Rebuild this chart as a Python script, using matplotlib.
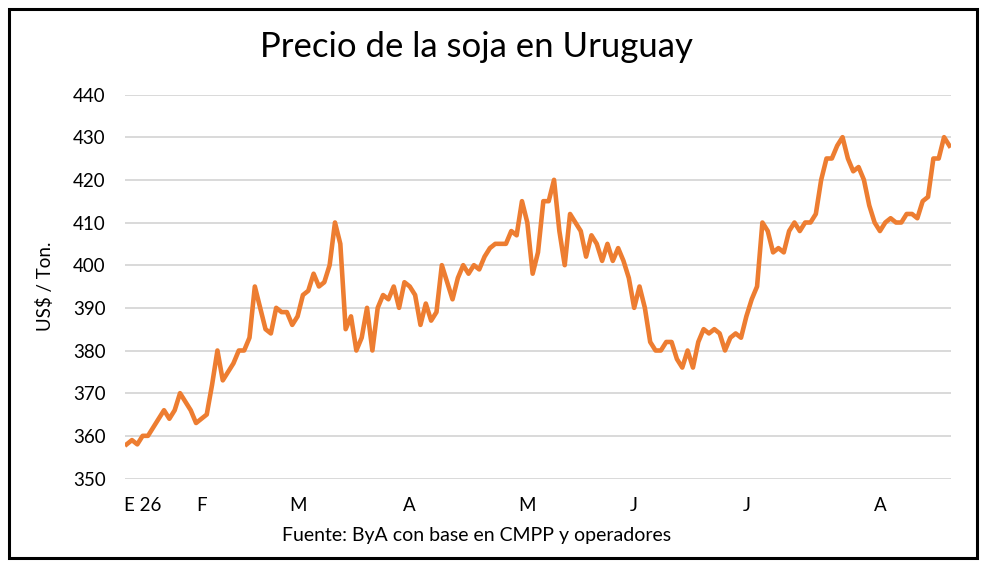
import numpy as np
import matplotlib
matplotlib.use("Agg")
from matplotlib import pyplot as plt
from matplotlib.patches import Rectangle

# ---------------------------------------------------------------
#   Data
# ---------------------------------------------------------------
precio = [
    358, 359, 358, 360, 360, 362, 364, 366, 364, 366,
    370, 368, 366, 363, 364, 365, 372, 380, 373, 375,
    377, 380, 380, 383, 395, 390, 385, 384, 390, 389,
    389, 386, 388, 393, 394, 398, 395, 396, 400, 410,
    405, 385, 388, 380, 383, 390, 380, 390, 393, 392,
    395, 390, 396, 395, 393, 386, 391, 387, 389, 400,
    396, 392, 397, 400, 398, 400, 399, 402, 404, 405,
    405, 405, 408, 407, 415, 410, 398, 403, 415, 415,
    420, 408, 400, 412, 410, 408, 402, 407, 405, 401,
    405, 401, 404, 401, 397, 390, 395, 390, 382, 380,
    380, 382, 382, 378, 376, 380, 376, 382, 385, 384,
    385, 384, 380, 383, 384, 383, 388, 392, 395, 410,
    408, 403, 404, 403, 408, 410, 408, 410, 410, 412,
    420, 425, 425, 428, 430, 425, 422, 423, 420, 414,
    410, 408, 410, 411, 410, 410, 412, 412, 411, 415,
    416, 425, 425, 430, 428,
]
mes_pos = [3, 14, 32, 53, 75, 95, 116, 141]
mes_lab = ["E 26", "F", "M", "A", "M", "J", "J", "A"]
y_ticks = [350, 360, 370, 380, 390, 400, 410, 420, 430, 440]

titulo = "Precio de la soja en Uruguay"
fuente = "Fuente: ByA con base en CMPP y operadores"
eje_y = "US$ / Ton."

# ---------------------------------------------------------------
#   Figure
# ---------------------------------------------------------------
W, H = 982, 565
plt.rcParams['font.family'] = ['Lato', 'DejaVu Sans']
fig = plt.figure(figsize=(W / 100, H / 100), dpi=100)

# axes placed in pixel coords of the reference
ax = fig.add_axes([125 / W, 1 - 478.5 / H, 826 / W, 384 / H])
x = np.arange(len(precio))
ax.plot(x, precio, color="#ED7D31", lw=3.3, solid_joinstyle="round", zorder=3)

ax.set_xlim(-0.3, len(precio) - 1 + 0.3)
ax.set_ylim(350, 440)
ax.set_yticks(y_ticks)
ax.set_xticks(mes_pos)
ax.set_xticklabels(mes_lab)
ax.yaxis.grid(True, color="#D9D9D9", lw=1.4)
ax.set_axisbelow(True)
for s in ax.spines.values():
    s.set_visible(False)
ax.tick_params(axis="both", length=0, labelsize=13.5, colors="black")
ax.tick_params(axis="x", pad=13)
ax.tick_params(axis="y", pad=14)

fig.text(476 / W, 1 - 47 / H, titulo, ha="center", va="center", fontsize=25)
fig.text(477 / W, 1 - 535 / H, fuente, ha="center", va="center", fontsize=14)
fig.text(45 / W, 1 - 286 / H, eje_y, ha="center", va="center", rotation=90, fontsize=13.5)

# black frame around the chart
fig.patches.append(Rectangle((9 / W, 1 - 558 / H), 968 / W, 549 / H,
                             transform=fig.transFigure, fill=False,
                             edgecolor="black", lw=2.2))

fig.savefig("out.png", dpi=100)
